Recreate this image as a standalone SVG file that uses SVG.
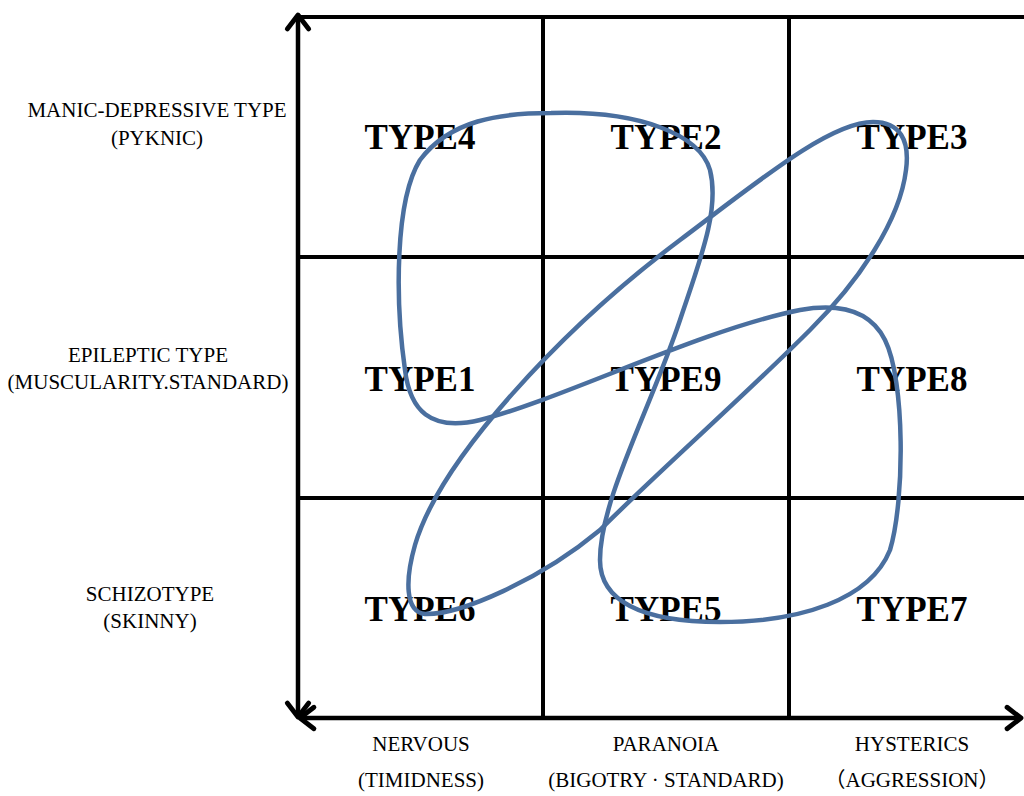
<svg xmlns="http://www.w3.org/2000/svg" width="1024" height="796" viewBox="0 0 1024 796">
<defs>
<marker id="chev" markerUnits="userSpaceOnUse" markerWidth="30" markerHeight="30" viewBox="-18 -14 22 28" refX="0" refY="0" orient="auto-start-reverse">
<path d="M-13,-10 L0,0 L-13,10" fill="none" stroke="#000" stroke-width="4.5" stroke-linecap="round" stroke-linejoin="round"/>
</marker>
</defs>
<style>
.grid{stroke:#000;stroke-width:4;fill:none}
.axis{stroke:#000;stroke-width:4.5;fill:none}
.cell{font-family:"Liberation Serif",serif;font-weight:bold;font-size:35px;fill:#000;text-anchor:middle}
.lab{font-family:"Liberation Serif","Noto Sans CJK SC",serif;font-size:21px;fill:#000;text-anchor:middle}
.loop{fill:none;stroke:#4a6f9f;stroke-width:4.5;stroke-linejoin:round}
</style>
<rect width="1024" height="796" fill="#fff"/>
<g id="grid">
<line class="grid" x1="298" y1="17" x2="1024" y2="17"/>
<line class="grid" x1="298" y1="257" x2="1024" y2="257"/>
<line class="grid" x1="298" y1="498" x2="1024" y2="498"/>
<line class="grid" x1="543" y1="17" x2="543" y2="718"/>
<line class="grid" x1="789" y1="17" x2="789" y2="718"/>
</g>
<g id="axes">
<line class="axis" x1="298" y1="15" x2="298" y2="717" marker-start="url(#chev)" marker-end="url(#chev)"/>
<line class="axis" x1="300" y1="718" x2="1021" y2="718" marker-start="url(#chev)" marker-end="url(#chev)"/>
</g>
<g id="row-labels">
<text class="lab" x="157" y="117">MANIC-DEPRESSIVE TYPE</text>
<text class="lab" x="157" y="145">(PYKNIC)</text>
<text class="lab" x="148" y="362">EPILEPTIC TYPE</text>
<text class="lab" x="148" y="389">(MUSCULARITY.STANDARD)</text>
<text class="lab" x="150" y="601">SCHIZOTYPE</text>
<text class="lab" x="150" y="628">(SKINNY)</text>
</g>
<g id="col-labels">
<text class="lab" x="421" y="751">NERVOUS</text>
<text class="lab" x="421" y="787">(TIMIDNESS)</text>
<text class="lab" x="666" y="751">PARANOIA</text>
<text class="lab" x="666" y="787">(BIGOTRY · STANDARD)</text>
<text class="lab" x="912" y="751">HYSTERICS</text>
<text class="lab" x="912" y="787">（AGGRESSION）</text>
</g>
<g id="cells">
<text class="cell" id="type4" x="420" y="149">TYPE4</text>
<text class="cell" id="type2" x="666" y="149">TYPE2</text>
<text class="cell" id="type3" x="912" y="149">TYPE3</text>
<text class="cell" id="type1" x="420" y="391">TYPE1</text>
<text class="cell" id="type9" x="666" y="391">TYPE9</text>
<text class="cell" id="type8" x="912" y="391">TYPE8</text>
<text class="cell" id="type6" x="420" y="621">TYPE6</text>
<text class="cell" id="type5" x="666" y="621">TYPE5</text>
<text class="cell" id="type7" x="912" y="621">TYPE7</text>
</g>
<g id="connectors">
<path class="loop" d="M551,113 C640,110 700,135 710,170 C720,210 700,260 680,320 C650,410 600,500 600,560 C600,600 640,622 720,622 C800,622 870,600 890,550 C905,500 905,380 885,340 C870,310 840,303 800,310 C700,330 560,400 480,420 C430,432 410,410 405,370 C395,300 395,200 420,160 C450,120 500,113 551,113 Z"/>
<path class="loop" d="M873,122 C900,122 910,140 906,170 C900,220 860,280 810,330 C740,400 660,470 600,530 C540,580 460,615 425,614 C405,612 405,580 415,545 C440,460 560,330 680,240 C760,180 830,122 873,122 Z"/>
</g>
</svg>
